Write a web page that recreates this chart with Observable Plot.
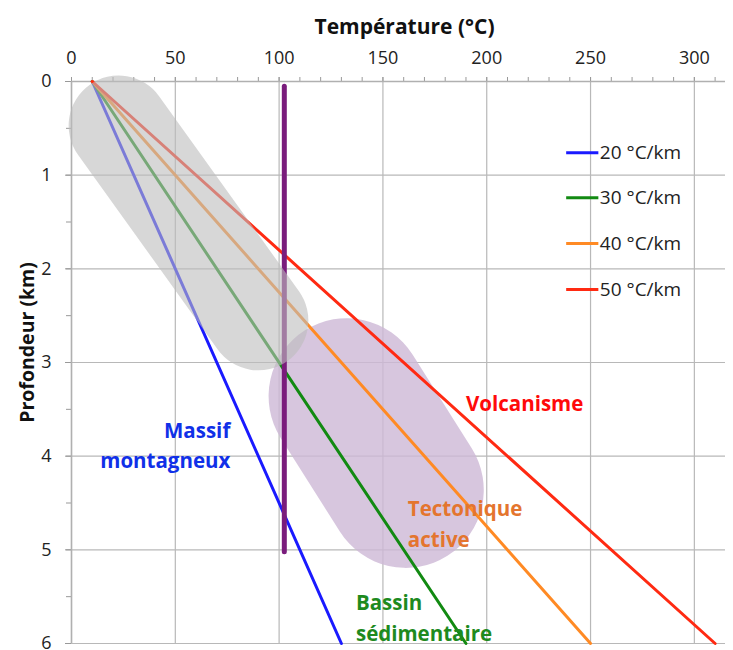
<!DOCTYPE html>
<html>
<head>
<meta charset="utf-8">
<script src="https://cdn.jsdelivr.net/npm/d3@7"></script>
<script src="https://cdn.jsdelivr.net/npm/@observablehq/plot@0.6"></script>
<style>
  html, body { margin: 0; padding: 0; background: #fff; }
  #chart svg { font-family: "Open Sans", sans-serif; }
</style>
</head>
<body>
<div id="chart"></div>
<script>
// ---- data ----
const gradientLabels = ["20 °C/km", "30 °C/km", "40 °C/km", "50 °C/km"];
const gradientColors = ["#1a1aff", "#128a12", "#ff8a24", "#ff2a12"];
const surfaceTemp = 10;          // °C at 0 km
const surfaceDepth = 0;          // km
const bottomDepth = 6;           // km
const tempAt6km = [130, 190, 250, 310];

const majorTempTicks = [0, 50, 100, 150, 200, 250, 300];
const minorTempTicks = d3.range(0, 311, 10);
const depthTicks = [0, 1, 2, 3, 4, 5, 6];
const minorDepthTicks = d3.range(0, 6.01, 0.5);

// vertical 100 °C line
const boilTemp = [102.5, 102.5];
const boilDepth = [0.05, 5.02];

// zones (stadium shapes, centre line end points)
const grayZoneTemp = [22.7, 90];
const grayZoneDepth = [0.47, 2.55];
const purpleZoneTemp = [132.5, 161];
const purpleZoneDepth = [3.36, 4.36];

// annotation labels
const zoneNames = ["Massif\nmontagneux", "Volcanisme", "Tectonique\nactive", "Bassin\nsédimentaire"];
const zoneTemp = [76.5, 190, 162, 137];
const zoneDepth = [3.86, 3.41, 4.7, 5.7];
const zoneColors = ["#1030e8", "#ff0a0a", "#e4752e", "#1e8a1e"];
const zoneAnchor = ["end", "start", "start", "start"];

// legend rows (depth positions in km)
const legendDepth = [0.76, 1.24, 1.73, 2.22];
const legendTemp = [238.5, 254];

// ---- build tables ----
const lines = [];
gradientLabels.forEach((g, i) => {
  lines.push({g, t: surfaceTemp, z: surfaceDepth});
  lines.push({g, t: tempAt6km[i], z: bottomDepth});
});
const boil = boilTemp.map((t, i) => ({t, z: boilDepth[i]}));
const grayZone = grayZoneTemp.map((t, i) => ({t, z: grayZoneDepth[i]}));
const purpleZone = purpleZoneTemp.map((t, i) => ({t, z: purpleZoneDepth[i]}));
const zones = zoneNames.map((n, i) => ({n, t: zoneTemp[i], z: zoneDepth[i], c: zoneColors[i], a: zoneAnchor[i]}));
const legend = gradientLabels.map((g, i) => ({g, z: legendDepth[i], c: gradientColors[i]}));

const colorScale = {domain: gradientLabels, range: gradientColors};
const zoneText = (anchor) => Plot.text(zones.filter(d => d.a === anchor), {
  x: "t", y: "z", text: "n", fill: "c", textAnchor: anchor,
  fontSize: 20.5, fontWeight: "bold", lineHeight: 1.5
});

const chart = Plot.plot({
  width: 733,
  height: 650,
  marginLeft: 71,
  marginRight: 8,
  marginTop: 81,
  marginBottom: 7,
  x: {domain: [0, 315]},
  y: {domain: [0, 6], reverse: true},
  color: colorScale,
  style: {fontFamily: "Open Sans, sans-serif", color: "#222", background: "#fff"},
  marks: [
    Plot.gridX(majorTempTicks, {stroke: "#b8b8b8", strokeOpacity: 1, strokeWidth: 1.2}),
    Plot.gridY(depthTicks, {stroke: "#b8b8b8", strokeOpacity: 1, strokeWidth: 1.2}),
    Plot.axisX({anchor: "top", ticks: minorTempTicks, tickSize: 5, tickFormat: () => "", stroke: "#999", label: null}),
    Plot.axisX({anchor: "top", ticks: majorTempTicks, tickSize: 5, tickPadding: 13, tickFormat: d3.format("d"), fontSize: 18, stroke: "#999", label: null}),
    Plot.axisY({anchor: "left", ticks: minorDepthTicks, tickSize: 5, tickFormat: () => "", stroke: "#999", label: null}),
    Plot.axisY({anchor: "left", ticks: depthTicks, tickSize: 6, tickPadding: 14, tickFormat: d3.format("d"), fontSize: 18, stroke: "#999", label: null}),
    Plot.ruleY([0], {stroke: "#b0b0b0", strokeWidth: 1.5}),
    Plot.ruleX([0], {stroke: "#b0b0b0", strokeWidth: 1.5}),
    // purple zone (under the lines)
    Plot.line(purpleZone, {x: "t", y: "z", stroke: "#cdb8d6", strokeOpacity: 0.8, strokeWidth: 156, strokeLinecap: "round"}),
    // gradient lines
    Plot.line(lines, {x: "t", y: "z", z: "g", stroke: "g", strokeWidth: 3}),
    // 100 °C line
    Plot.line(boil, {x: "t", y: "z", stroke: "#7a1c7c", strokeWidth: 5}),
    // gray zone (over the lines)
    Plot.line(grayZone, {x: "t", y: "z", stroke: "#bcbcbc", strokeOpacity: 0.6, strokeWidth: 100, strokeLinecap: "round"}),
    // legend
    Plot.ruleY(legend, {y: "z", x1: legendTemp[0], x2: legendTemp[1], stroke: "c", strokeWidth: 3}),
    Plot.text(legend, {y: "z", x: legendTemp[1], text: "g", textAnchor: "start", dx: 1, fontSize: 19, fill: "#222"}),
    // annotations
    zoneText("end"),
    zoneText("start"),
    // titles
    Plot.text(["Température (°C)"], {frameAnchor: "top", textAnchor: "middle", dx: 6, dy: -62, fontSize: 21, fontWeight: "bold", fill: "#111"}),
    Plot.text(["Profondeur (km)"], {frameAnchor: "left", textAnchor: "middle", dx: -44, dy: -20, rotate: -90, fontSize: 19.5, fontWeight: "bold", fill: "#111"})
  ]
});
document.getElementById("chart").appendChild(chart);
</script>
</body>
</html>
